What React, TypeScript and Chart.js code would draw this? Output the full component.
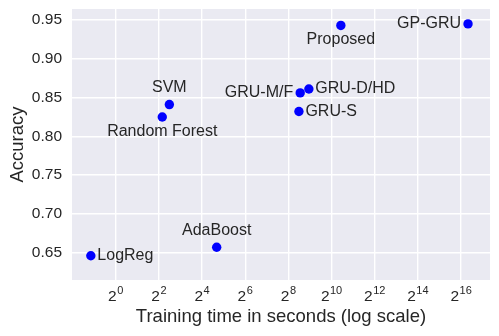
import React, { useEffect, useRef } from "react";
import { Chart, registerables } from "chart.js";

Chart.register(...registerables);

const methods = ["LogReg", "AdaBoost", "Random Forest", "SVM", "GRU-M/F", "GRU-D/HD", "GRU-S", "Proposed", "GP-GRU"];
const trainingTime = [0.45, 25.6, 4.46, 5.6, 374, 494, 359, 1380, 81900];
const accuracy = [0.646, 0.657, 0.825, 0.841, 0.856, 0.861, 0.832, 0.943, 0.945];
const xTickExponents = [0, 2, 4, 6, 8, 10, 12, 14, 16];
const yTicks = [0.65, 0.7, 0.75, 0.8, 0.85, 0.9, 0.95];
const labelPlacement = ["right", "above", "below", "above", "left", "right", "right", "below", "left"];

const FONT = '"Liberation Sans", Arial, "DejaVu Sans", sans-serif';
const TEXT = "#262626";

const bgPlugin = {
  id: "bgPlugin",
  beforeDraw(chart: any) {
    const { ctx, chartArea } = chart;
    ctx.save();
    ctx.fillStyle = "#EAEAF2";
    ctx.fillRect(chartArea.left, chartArea.top, chartArea.right - chartArea.left, chartArea.bottom - chartArea.top);
    ctx.restore();
  },
};

// x tick labels drawn as base "2" with a raised, smaller exponent (like mathtext 2^n)
const powerTickPlugin = {
  id: "powerTickPlugin",
  afterDraw(chart: any) {
    const { ctx, chartArea } = chart;
    const xs = chart.scales.x;
    ctx.save();
    ctx.fillStyle = TEXT;
    ctx.textAlign = "left";
    ctx.textBaseline = "alphabetic";
    const baseFont = `15.5px ${FONT}`;
    const expFont = `11px ${FONT}`;
    const baseY = chartArea.bottom + 20.7;
    xTickExponents.forEach((e) => {
      const px = xs.getPixelForValue(Math.pow(2, e));
      const base = "2";
      const exp = String(e);
      ctx.font = baseFont;
      const wb = ctx.measureText(base).width;
      ctx.font = expFont;
      const we = ctx.measureText(exp).width;
      const gap = 0.5;
      const start = px - (wb + gap + we) / 2;
      ctx.font = baseFont;
      ctx.fillText(base, start, baseY);
      ctx.font = expFont;
      ctx.fillText(exp, start + wb + gap, baseY - 6.5);
    });
    ctx.restore();
  },
};

const labelPlugin = {
  id: "labelPlugin",
  afterDatasetsDraw(chart: any) {
    const { ctx } = chart;
    const meta = chart.getDatasetMeta(0);
    ctx.save();
    ctx.font = `16px ${FONT}`;
    ctx.fillStyle = TEXT;
    meta.data.forEach((pt: any, i: number) => {
      const p = labelPlacement[i];
      let x = pt.x;
      let y = pt.y;
      ctx.textBaseline = "middle";
      if (p === "right") {
        ctx.textAlign = "left";
        x += 6.5;
      } else if (p === "left") {
        ctx.textAlign = "right";
        x -= 7;
      } else if (p === "above") {
        ctx.textAlign = "center";
        y -= 17;
      } else {
        ctx.textAlign = "center";
        y += 14.5;
      }
      ctx.fillText(methods[i], x, y);
    });
    ctx.restore();
  },
};

export default function App() {
  const ref = useRef<HTMLCanvasElement | null>(null);
  useEffect(() => {
    if (!ref.current) return;
    const chart = new Chart(ref.current, {
      type: "scatter",
      data: {
        datasets: [
          {
            data: trainingTime.map((t, i) => ({ x: t, y: accuracy[i] })),
            backgroundColor: "#0000FF",
            borderWidth: 0,
            pointRadius: 4.7,
          },
        ],
      },
      options: {
        responsive: false,
        animation: false,
        layout: { padding: { top: 9, right: 9, left: 0, bottom: 0 } },
        plugins: { legend: { display: false }, tooltip: { enabled: false } },
        scales: {
          x: {
            type: "logarithmic",
            min: Math.pow(2, -2.025),
            max: Math.pow(2, 17.34),
            border: { display: false },
            grid: { color: "#FFFFFF", lineWidth: 1.4, drawTicks: false },
            afterBuildTicks: (scale: any) => {
              scale.ticks = xTickExponents.map((e) => ({ value: Math.pow(2, e) }));
            },
            afterFit: (scale: any) => {
              scale.height = 56;
              scale.paddingLeft = 0;
              scale.paddingRight = 0;
            },
            ticks: {
              display: false,
              autoSkip: false,
              maxRotation: 0,
            },
            title: {
              display: true,
              text: "Training time in seconds (log scale)",
              color: TEXT,
              font: { family: FONT, size: 18.5 },
              padding: { top: 0, bottom: 8 },
            },
          },
          y: {
            type: "linear",
            min: 0.6148,
            max: 0.9642,
            border: { display: false },
            grid: { color: "#FFFFFF", lineWidth: 1.4, drawTicks: false },
            afterBuildTicks: (scale: any) => {
              scale.ticks = yTicks.map((v) => ({ value: v }));
            },
            afterFit: (scale: any) => {
              scale.width = 72;
              scale.paddingTop = 0;
              scale.paddingBottom = 0;
            },
            ticks: {
              padding: 10,
              color: TEXT,
              font: { family: FONT, size: 15.5 },
              callback: (v: any) => Number(v).toFixed(2),
            },
            title: {
              display: true,
              text: "Accuracy",
              color: TEXT,
              font: { family: FONT, size: 18.5 },
              padding: { top: 7, bottom: 0 },
            },
          },
        },
      },
      plugins: [bgPlugin, labelPlugin, powerTickPlugin],
    });
    return () => chart.destroy();
  }, []);
  return (
    <div style={{ position: "absolute", left: 0, top: 0, width: 499, height: 336, background: "#fff" }}>
      <canvas ref={ref} width={499} height={336} />
    </div>
  );
}
